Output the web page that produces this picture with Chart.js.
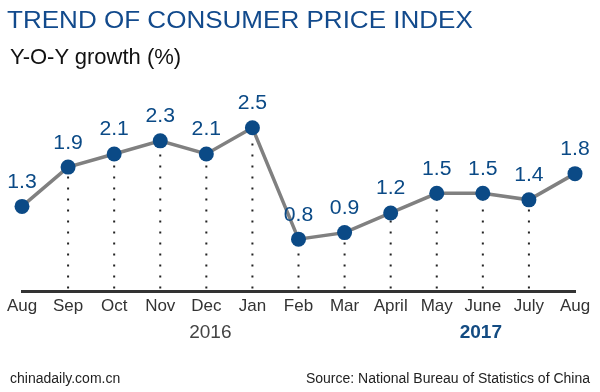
<!DOCTYPE html>
<html>
<head>
<meta charset="utf-8">
<script src="https://cdn.jsdelivr.net/npm/chart.js@4.4.0/dist/chart.umd.min.js"></script>
<style>
  html, body { margin: 0; padding: 0; background: #fff; }
  #wrap { position: relative; width: 600px; height: 392px; overflow: hidden; font-family: "Liberation Sans", Arial, sans-serif; }
  #c { position: absolute; left: 0; top: 0; }
  .t { position: absolute; white-space: nowrap; line-height: 1; }
  #title { left: 7px; top: 8px; font-size: 24px; color: #124a8c; transform: scaleX(1.085); transform-origin: 0 0; }
  #sub { left: 10px; top: 46px; font-size: 22px; color: #111; }
  #site { left: 10px; top: 371px; font-size: 14px; color: #222; }
  #src { right: 10px; top: 371px; font-size: 14px; color: #222; }
</style>
</head>
<body>
<div id="wrap">
  <canvas id="c" width="600" height="392"></canvas>
  <div class="t" id="title">TREND OF CONSUMER PRICE INDEX</div>
  <div class="t" id="sub">Y-O-Y growth (%)</div>
  <div class="t" id="site">chinadaily.com.cn</div>
  <div class="t" id="src">Source: National Bureau of Statistics of China</div>
</div>
<script>
const months = ['Aug','Sep','Oct','Nov','Dec','Jan','Feb','Mar','April','May','June','July','Aug'];
const cpi = [1.3, 1.9, 2.1, 2.3, 2.1, 2.5, 0.8, 0.9, 1.2, 1.5, 1.5, 1.4, 1.8];
const guides = [false, true, true, true, true, true, true, true, true, true, true, true, false];
const years = ['2016', '2017'];
const yearAnchorIdx = [4, 10];
const yearBold = [false, true];

const BLUE = '#0b4a86';

const guidePlugin = {
  id: 'guides',
  beforeDatasetsDraw(chart) {
    const meta = chart.getDatasetMeta(0);
    const ctx = chart.ctx;
    const bottom = chart.chartArea.bottom;
    ctx.save();
    ctx.strokeStyle = '#222';
    ctx.lineWidth = 2;
    ctx.setLineDash([2, 9]);
    meta.data.forEach((pt, i) => {
      if (!guides[i]) return;
      ctx.beginPath();
      ctx.moveTo(pt.x, bottom - 3);
      ctx.lineTo(pt.x, pt.y + 4);
      ctx.stroke();
    });
    ctx.restore();
  }
};

const labelPlugin = {
  id: 'vlabels',
  afterDatasetsDraw(chart) {
    const meta = chart.getDatasetMeta(0);
    const ctx = chart.ctx;
    ctx.save();
    ctx.fillStyle = BLUE;
    ctx.font = '20px "Liberation Sans", Arial, sans-serif';
    ctx.textAlign = 'center';
    ctx.textBaseline = 'middle';
    meta.data.forEach((pt, i) => {
      ctx.save();
      ctx.translate(pt.x, pt.y - 24);
      ctx.scale(1.06, 1);
      ctx.fillText(cpi[i].toFixed(1), 0, 0);
      ctx.restore();
    });
    // year labels
    const xs = chart.scales.x;
    years.forEach((y, k) => {
      const x = xs.getPixelForValue(yearAnchorIdx[k]) + (k === 0 ? 4 : -2);
      ctx.font = (yearBold[k] ? 'bold ' : '') + '19px "Liberation Sans", Arial, sans-serif';
      ctx.fillStyle = yearBold[k] ? '#134b82' : '#444';
      ctx.textBaseline = 'alphabetic';
      ctx.fillText(y, x, 338);
    });
    ctx.restore();
  }
};

new Chart(document.getElementById('c'), {
  type: 'line',
  data: {
    labels: months,
    datasets: [{
      data: cpi,
      borderColor: '#808080',
      borderWidth: 3.5,
      pointRadius: 7.5,
      pointHoverRadius: 7.5,
      pointBackgroundColor: BLUE,
      pointBorderWidth: 0,
      tension: 0,
      clip: false
    }]
  },
  options: {
    responsive: false,
    animation: false,
    devicePixelRatio: 1,
    layout: { padding: { top: 95, left: 22, right: 25, bottom: 70 } },
    plugins: { legend: { display: false }, tooltip: { enabled: false }, title: { display: false } },
    scales: {
      x: {
        offset: false,
        grid: { display: false, drawTicks: false },
        border: { display: true, color: '#333', width: 3 },
        ticks: { color: '#333', padding: 5, maxRotation: 0, autoSkip: false, font: { size: 17, family: '"Liberation Sans", Arial, sans-serif' } }
      },
      y: {
        display: false,
        min: 0,
        max: 3
      }
    }
  },
  plugins: [guidePlugin, labelPlugin]
});
</script>
</body>
</html>
